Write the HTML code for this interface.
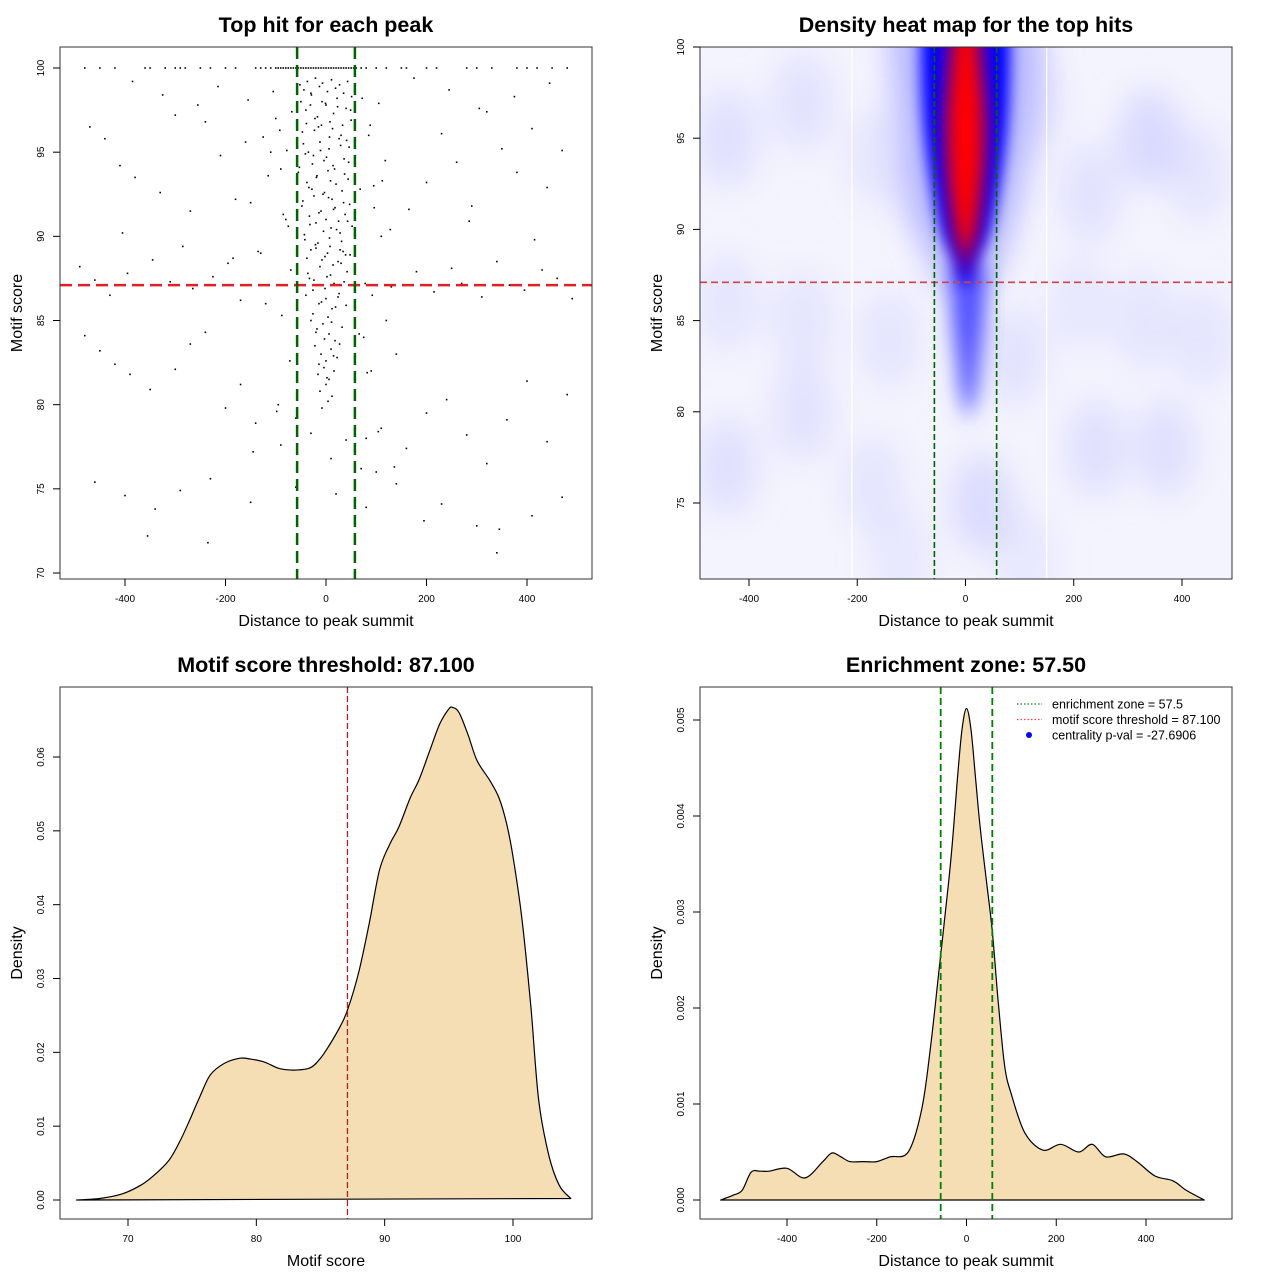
<!DOCTYPE html>
<html><head><meta charset="utf-8">
<style>
html,body{margin:0;padding:0;background:#fff;}
svg{display:block;font-family:"Liberation Sans",Arial,sans-serif;}
.title{font-weight:bold;font-size:21.5px;text-anchor:middle;}
.alab{font-size:16px;text-anchor:middle;}
.tick{font-size:10px;}
</style></head>
<body>
<svg id="chart" width="1280" height="1280" viewBox="0 0 1280 1280" xmlns="http://www.w3.org/2000/svg">
<defs>
<filter id="blurBig" x="-50%" y="-50%" width="200%" height="200%"><feGaussianBlur stdDeviation="16"/></filter>
<filter id="blurMid" x="-50%" y="-50%" width="200%" height="200%"><feGaussianBlur stdDeviation="10"/></filter>
<filter id="blurSm" x="-50%" y="-50%" width="200%" height="200%"><feGaussianBlur stdDeviation="7"/></filter>
<filter id="blurRed" x="-50%" y="-50%" width="200%" height="200%"><feGaussianBlur stdDeviation="9"/></filter>
<clipPath id="clipHeat"><rect x="700" y="47" width="532" height="532"/></clipPath>
</defs>
</svg>
<script>
// ---------- DATA ----------
const ptX = [-480,-450,-420,-360,-350,-320,-300,-290,-280,-250,-230,-200,-180,-140,-130,-120,-110,-100,-95,-90,-85,-80,-75,-70,-65,-60,-55,-50,-45,-40,-35,-30,-25,-20,-15,-10,-5,0,5,10,15,20,25,30,35,40,45,50,55,60,70,80,100,120,150,160,200,220,280,300,330,380,400,420,450,480,
-50,-40,-30,-22,-15,-8,0,8,15,22,30,40,50,-45,-35,-25,-12,-4,6,14,26,36,46,-55,-38,-28,-18,-6,4,12,20,32,44,-48,-33,-20,-10,0,10,18,28,38,52,-42,-30,-16,-2,8,24,34,48,-36,-24,-12,2,16,30,42,-40,-26,-14,0,12,26,40,-30,-18,-6,6,18,32,-22,-10,0,10,22,-16,-4,6,16,-12,0,12,-8,4,
-100,-90,-80,-70,85,95,110,130,-110,-130,75,90,120,140,-150,-120,-95,80,100,
-470,-440,-410,-380,-330,-300,-270,-240,-210,-180,-160,200,230,260,290,320,350,380,410,440,470,
-490,-460,-430,-395,-345,-310,-265,-225,-195,-170,180,215,250,270,310,340,365,395,430,460,490,
-480,-450,-420,-390,-350,-300,-270,-240,-200,-170,-140,-90,-60,-30,10,40,70,110,160,200,240,280,320,360,400,440,480,
-460,-400,-340,-290,-230,-150,-60,20,80,140,230,300,340,410,470,
-52,-44,-37,-29,-21,-13,-7,3,11,19,27,35,43,51,-47,-39,-31,-23,-17,-9,-1,7,13,23,33,41,49,-53,-41,-27,-19,-11,1,9,17,29,37,45,-46,-34,-24,-14,-3,5,15,25,35,47,-43,-32,-21,-5,7,21,31,43,-38,-20,-8,3,14,28,39,-33,-15,-2,9,24,36,-26,-9,4,19,-20,-3,11,27,-14,2,15,
-105,-92,-78,-68,72,88,105,118,-115,-125,68,96,112,128,-135,-85,-75,78,92,-88,66,-72,82,-98,104,-145,136,
-385,-325,-255,-215,-155,175,245,305,375,445,-405,-285,-185,165,285,415,-355,-235,195,345];
const ptY = [100,100,100,100,100,100,100,100,100,100,100,100,100,100,100,100,100,100,100,100,100,100,100,100,100,100,100,100,100,100,100,100,100,100,100,100,100,100,100,100,100,100,100,100,100,100,100,100,100,100,100,100,100,100,100,100,100,100,100,100,100,100,100,100,100,100,
98,97.5,98.5,97,96.5,98,97.8,96.8,97.3,98.2,96,97.6,96.9,95.5,95,94.8,95.6,94.5,95.2,94.2,95.8,94.6,95.3,93.8,93.2,92.8,93.6,92.5,93.9,92.2,93.1,92.7,93.4,91.8,91.2,90.8,91.5,91,90.5,91.7,90.2,91.3,90.6,89.8,89.2,89.6,88.8,89.4,88.5,89.1,88.9,87.8,87.4,88.2,87.6,87.2,88.4,87.9,86.5,86.8,86,86.3,85.7,86.6,85.9,85,84.5,84.8,84.2,83.8,84.6,83.5,83,82.6,83.3,82.8,81.8,82.2,81.5,82,80.8,81.2,80.5,79.8,80.2,
97,94,91,88,96,93,90,87,95,89,84,82,85,83,92,86,80,78,76,
96.5,95.8,94.2,93.5,92.6,97.2,91.5,96.8,94.8,92.2,95.6,93.2,96.1,94.4,91.8,97.4,95.2,93.8,96.4,92.9,95.1,
88.2,87.4,86.5,87.8,88.6,87.3,86.9,87.6,88.4,86.2,87.9,86.7,88.1,87.2,86.4,88.5,87.1,86.8,88,87.5,86.3,
84.1,83.2,82.4,81.8,80.9,82.1,83.6,84.3,79.8,81.2,78.9,77.6,79.2,78.3,76.8,77.9,76.2,78.6,77.4,79.5,80.3,78.2,76.5,79.1,81.4,77.8,80.6,
75.4,74.6,73.8,74.9,75.6,74.2,75.1,74.7,73.9,75.3,74.1,72.8,71.2,73.4,74.5,
99,98.7,99.2,98.4,99.4,98.9,99.1,98.6,99.3,98.8,99,98.5,99.2,98.3,96.2,96.7,97.8,96.3,97.1,96.6,97.9,95.9,96.4,97.7,96.6,95.7,97.5,94.1,94.9,94.3,93.5,95.1,94.7,93.3,94,95.4,93.7,94.4,92.1,92.9,92.4,91.4,92.6,92.3,91.6,90.9,92,91.9,90.1,90.7,89.5,90.3,89.9,90.4,89.7,90.9,88.7,89.3,88.6,89,88.3,89.2,88.9,87.5,87.1,86.9,87.7,86.4,87.3,85.4,86.1,85.2,85.8,84.3,83.9,84.9,83.6,82.4,81.6,82.9,
98.6,96.3,95.1,97.4,98.2,96.6,97.9,94.5,93.6,95.9,92.8,91.7,93.3,90.4,89.1,91.3,90.6,87.2,86.5,85.3,84.2,82.6,81.9,79.6,78.4,77.2,76.3,
99.2,98.4,97.8,98.9,98.1,99.4,98.7,97.6,98.3,99.1,90.2,89.4,88.7,91.6,90.9,89.8,72.2,71.8,73.1,72.6];

// Heat map background blobs
const blobX  = [-440,-300,-160,-60,120,230,340,430,-440,-300,-140,90,210,330,440,-440,-300,-170,30,240,370,-120,110];
const blobY  = [95,97,94,92,97,92,95,93,86,85,84,83,86,85,84,77,80,76,75,78,78,72,72];
const blobLvl= [0.4,0.35,0.3,0.45,0.35,0.35,0.55,0.3,0.3,0.3,0.3,0.35,0.25,0.3,0.3,0.4,0.35,0.3,0.5,0.4,0.4,0.25,0.25];
// Core density contour: score levels and half-widths (distance units)
const coreLevels = [101.5,99,96,93,90,88.5,87];
const haloHalfW  = [140,135,125,110,85,65,45];
const blueHalfW  = [82,82,78,66,46,26,6];
const redHalfW   = [24,30,37,34,22,8,0];
const tailLevels = [88,85,83,81,79.5];
const tailHalfW  = [34,30,22,14,0];
const threshold = 87.1, zone = 57.5;

// Panel 3 density of motif score
const dens3X = [66,67.8,69.5,71,72,73.2,74,74.8,75.6,76.4,77.5,78.7,79.5,80.6,81.8,83,84.2,85,85.7,86.5,87.1,88,88.8,89.6,90.4,91.1,92,92.7,93.5,94.3,95,95.3,95.8,96.5,97.2,98.2,98.9,99.5,100,100.7,101.4,102,102.8,103.6,104.5];
const dens3Y = [0,0.0002,0.0008,0.002,0.0033,0.0054,0.0078,0.0108,0.014,0.0169,0.0185,0.0192,0.0191,0.0187,0.0178,0.0176,0.0179,0.0192,0.021,0.0234,0.0257,0.031,0.0375,0.0447,0.0482,0.0505,0.0545,0.057,0.0608,0.0645,0.0665,0.0667,0.066,0.063,0.0595,0.0568,0.0545,0.051,0.0465,0.038,0.026,0.0135,0.006,0.002,0.0002];

// Panel 4 density of distance
const dens4X = [-548,-520,-500,-480,-460,-440,-400,-360,-320,-300,-280,-260,-230,-200,-170,-130,-100,-80,-60,-40,-30,-20,-10,0,10,20,30,45,57.5,70,85,100,130,170,210,250,280,310,350,380,420,460,490,530];
const dens4Y = [0,0.00005,0.0001,0.00029,0.0003,0.0003,0.00033,0.00023,0.0004,0.00049,0.00045,0.0004,0.0004,0.0004,0.00045,0.0005,0.00094,0.0016,0.00245,0.0033,0.0038,0.0044,0.0049,0.00512,0.0049,0.0044,0.0039,0.0033,0.0028,0.0021,0.0014,0.0011,0.0007,0.00052,0.00058,0.0005,0.00058,0.00045,0.00048,0.0004,0.00025,0.0002,0.0001,0];

const xTicksDist = [-400,-200,0,200,400];
const yTicks1 = [70,75,80,85,90,95,100];
const yTicks2 = [75,80,85,90,95,100];
const xTicks3 = [70,80,90,100];
const yTicks3 = [0,0.01,0.02,0.03,0.04,0.05,0.06];
const yTickLab3 = ['0.00','0.01','0.02','0.03','0.04','0.05','0.06'];
const xTicks4 = [-400,-200,0,200,400];
const yTicks4 = [0,0.001,0.002,0.003,0.004,0.005];
const yTickLab4 = ['0.000','0.001','0.002','0.003','0.004','0.005'];

// ---------- AXES ----------
const lin=(d0,d1,r0,r1)=>v=>r0+(v-d0)*(r1-r0)/(d1-d0);
const x1=lin(-400,400,125,527), y1=lin(70,100,573,68);
const x2=lin(-400,400,749,1182), y2=lin(75,100,503,47);
const x3=lin(70,100,128,513), y3=lin(0,0.06,1200,757);
const x4=lin(-400,400,787,1146), y4=lin(0,0.005,1200,720);

const svg=document.getElementById('chart');
const NS='http://www.w3.org/2000/svg';
function mk(tag,attrs,parent){const e=document.createElementNS(NS,tag);for(const k in attrs)e.setAttribute(k,attrs[k]);(parent||svg).appendChild(e);return e;}
function grp(name){const g=mk('g',{});return g;}
function txt(s,attrs,parent){const t=mk('text',attrs,parent);t.textContent=s;return t;}
function smooth(pts,closed){ // Catmull-Rom
  let d='M'+pts[0][0].toFixed(1)+','+pts[0][1].toFixed(1);
  const n=pts.length;
  for(let i=0;i<n-1;i++){
    const p0=pts[Math.max(0,i-1)],p1=pts[i],p2=pts[i+1],p3=pts[Math.min(n-1,i+2)];
    const c1=[p1[0]+(p2[0]-p0[0])/6,p1[1]+(p2[1]-p0[1])/6],c2=[p2[0]-(p3[0]-p1[0])/6,p2[1]-(p3[1]-p1[1])/6];
    d+=` C${c1[0].toFixed(1)},${c1[1].toFixed(1)} ${c2[0].toFixed(1)},${c2[1].toFixed(1)} ${p2[0].toFixed(1)},${p2[1].toFixed(1)}`;
  }
  return d;
}
function panelFrame(name,bx,by,title,xlab,ylab){
  const g=grp(name);
  const t=txt(title,{x:bx+266,y:by-15,'class':'title'},g);
  
  
  const xl=txt(xlab,{x:bx+266,y:by+579,'class':'alab'},g);
  
  
  const yl=txt(ylab,{x:0,y:0,'class':'alab',transform:`translate(${bx-38},${by+266}) rotate(-90)`},g);
  
  
  return g;
}
function box(g,bx,by){const r=mk('rect',{x:bx,y:by,width:532,height:532,fill:'none',stroke:'#333','stroke-width':1},g);}
function xticks(g,vals,labs,fx,yb){
  const a=grp('x-axis');g.appendChild(a);
  vals.forEach((v,i)=>{const X=fx(v);mk('line',{x1:X,y1:yb,x2:X,y2:yb+7,stroke:'#000'},a);
    const t=txt(labs[i],{x:X,y:yb+23,'class':'tick','text-anchor':'middle'},a);
    });
}
function yticks(g,vals,labs,fy,xb){
  const a=grp('y-axis');g.appendChild(a);
  vals.forEach((v,i)=>{const Y=fy(v);mk('line',{x1:xb,y1:Y,x2:xb-7,y2:Y,stroke:'#000'},a);
    const t=txt(labs[i],{x:0,y:0,'class':'tick','text-anchor':'middle',transform:`translate(${xb-16},${Y}) rotate(-90)`},a);
    });
}

// ---------- PANEL 1 ----------
(function(){
  const g=panelFrame('scatter-panel',60,47,'Top hit for each peak','Distance to peak summit','Motif score');
  const pts=grp('scatter-points');g.appendChild(pts);
  for(let i=0;i<ptX.length;i++){
    const c=mk('rect',{x:x1(ptX[i])-0.8,y:y1(ptY[i])-0.8,width:1.6,height:1.6,fill:'#000'},pts);
    
    
  }
  const h=mk('line',{x1:60,x2:592,y1:y1(threshold),y2:y1(threshold),stroke:'#e02020','stroke-width':2.5,'stroke-dasharray':'12,6'},g);
  
  [-zone,zone].forEach(z=>{const v=mk('line',{x1:x1(z),x2:x1(z),y1:47,y2:579,stroke:'#006400','stroke-width':2.5,'stroke-dasharray':'12,6'},g);
    });
  box(g,60,47);
  xticks(g,xTicksDist,xTicksDist.map(String),x1,579);
  yticks(g,yTicks1,yTicks1.map(String),y1,60);
})();

// ---------- PANEL 2 ----------
function contour(levels,halfW,cx,fy){
  const L=levels.map((lv,i)=>[x2(cx-halfW[i]),fy(lv)]);
  const R=levels.map((lv,i)=>[x2(cx+halfW[i]),fy(lv)]).reverse();
  return smooth(L.concat(R))+' Z';
}
(function(){
  const g=panelFrame('heatmap-panel',700,47,'Density heat map for the top hits','Distance to peak summit','Motif score');
  const h=grp('heatmap');g.appendChild(h);h.setAttribute('clip-path','url(#clipHeat)');
  mk('rect',{x:700,y:47,width:532,height:532,fill:'#f4f4fe'},h);
  const bl=mk('g',{filter:'url(#blurBig)'},h);
  for(let i=0;i<blobX.length;i++){
    const e=mk('ellipse',{cx:x2(blobX[i]),cy:y2(blobY[i]),rx:32,ry:50,fill:'#c4c4ff','fill-opacity':blobLvl[i]},bl);
    
  }
  const halo=mk('path',{d:contour(coreLevels,haloHalfW,0,y2),fill:'#b4b4ff',filter:'url(#blurBig)'},h);
  
  const tail=mk('path',{d:contour(tailLevels,tailHalfW,5,y2),fill:'#5050ff',filter:'url(#blurMid)'},h);
  
  const blue=mk('path',{d:contour(coreLevels,blueHalfW,0,y2),fill:'#0000ff',filter:'url(#blurSm)'},h);
  
  const red=mk('path',{d:contour(coreLevels,redHalfW,0,y2),fill:'#ff0000',filter:'url(#blurRed)'},h);
  
  [-210,150].forEach(v=>mk('line',{x1:x2(v),x2:x2(v),y1:47,y2:579,stroke:'#fff','stroke-width':1.2},h));
  const t=mk('line',{x1:700,x2:1232,y1:y2(threshold),y2:y2(threshold),stroke:'#d04050','stroke-width':1.6,'stroke-dasharray':'7,4'},g);
  
  [-zone,zone].forEach(z=>{const v=mk('line',{x1:x2(z),x2:x2(z),y1:47,y2:579,stroke:'#006400','stroke-width':1.6,'stroke-dasharray':'6,3'},g);
    });
  box(g,700,47);
  xticks(g,xTicksDist,xTicksDist.map(String),x2,579);
  yticks(g,yTicks2,yTicks2.map(String),y2,700);
})();

// ---------- PANEL 3 ----------
(function(){
  const g=panelFrame('motif-density-panel',60,687,'Motif score threshold: 87.100','Motif score','Density');
  const pts=dens3X.map((v,i)=>[x3(v),y3(dens3Y[i])]);
  const d=smooth(pts)+' Z';
  const p=mk('path',{d:d,fill:'#f5deb3',stroke:'#000','stroke-width':1.2,'stroke-linejoin':'round'},g);
  
  const v=mk('line',{x1:x3(threshold),x2:x3(threshold),y1:687,y2:1219,stroke:'#b02020','stroke-width':1.3,'stroke-dasharray':'6,3'},g);
  
  box(g,60,687);
  xticks(g,xTicks3,xTicks3.map(String),x3,1219);
  yticks(g,yTicks3,yTickLab3,y3,60);
})();

// ---------- PANEL 4 ----------
(function(){
  const g=panelFrame('distance-density-panel',700,687,'Enrichment zone: 57.50','Distance to peak summit','Density');
  const pts=dens4X.map((v,i)=>[x4(v),y4(dens4Y[i])]);
  const d=smooth(pts)+' Z';
  const p=mk('path',{d:d,fill:'#f5deb3',stroke:'#000','stroke-width':1.2,'stroke-linejoin':'round'},g);
  
  [-zone,zone].forEach(z=>{const v=mk('line',{x1:x4(z),x2:x4(z),y1:687,y2:1219,stroke:'#008000','stroke-width':1.8,'stroke-dasharray':'7,4'},g);
    });
  box(g,700,687);
  xticks(g,xTicks4,xTicks4.map(String),x4,1219);
  yticks(g,yTicks4,yTickLab4,y4,700);
  const lg=grp('legend');g.appendChild(lg);
  const items=[['enrichment zone = 57.5','#208020','line'],['motif score threshold = 87.100','#ff4040','line'],['centrality p-val = -27.6906','#0000ff','dot']];
  items.forEach((it,i)=>{const Y=704+i*15.5;
    const e=grp('legend-entry');lg.appendChild(e);
    if(it[2]==='line') mk('line',{x1:1017,x2:1042,y1:Y,y2:Y,stroke:it[1],'stroke-width':1.2,'stroke-dasharray':'1.5,2'},e);
    else mk('circle',{cx:1029,cy:Y,r:3,fill:it[1]},e);
    txt(it[0],{x:1052,y:Y+4.5,'font-size':'12.5px'},e);
  });
})();
</script>
</body></html>
